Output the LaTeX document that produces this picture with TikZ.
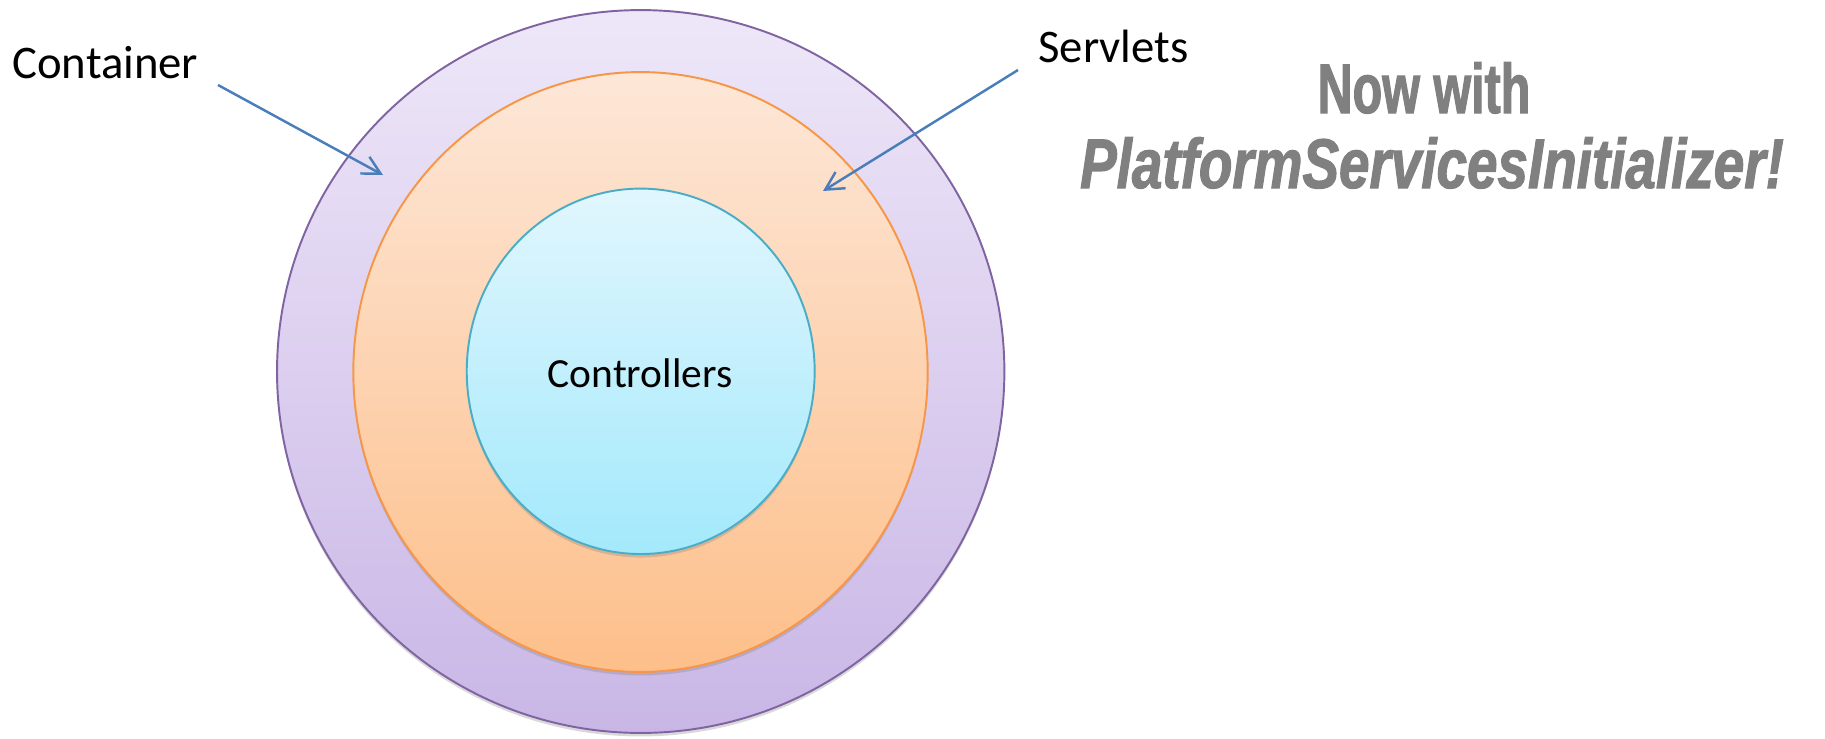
\documentclass[tikz,border=0pt]{standalone}
\usepackage{fontspec}
\setmainfont{Carlito}
\newfontfamily\bannerfont{Liberation Sans}[FakeStretch=0.69,FakeBold=1.5]
\newfontfamily\banneritfont{Liberation Sans}[FakeStretch=0.78,FakeBold=1.5]
\usetikzlibrary{shapes.geometric,arrows.meta,shadows}

\begin{document}
\begin{tikzpicture}[x=0.02cm,y=-0.02cm]
\definecolor{cv0}{rgb}{0.502,0.392,0.635}
\definecolor{ctv0}{rgb}{0.933,0.906,0.973}
\definecolor{cbv0}{rgb}{0.788,0.714,0.902}
\definecolor{cv1}{rgb}{0.969,0.588,0.275}
\definecolor{ctv1}{rgb}{0.992,0.906,0.847}
\definecolor{cbv1}{rgb}{0.992,0.749,0.541}
\definecolor{cv2}{rgb}{0.294,0.675,0.776}
\definecolor{ctv2}{rgb}{0.882,0.965,0.992}
\definecolor{cbv2}{rgb}{0.639,0.914,0.988}
\definecolor{ce}{rgb}{0.290,0.494,0.733}
\definecolor{cbanner}{rgb}{0.502,0.502,0.502}
%
\useasboundingbox (0,0) rectangle (1825,738);
%
\node[shape=ellipse,inner sep=0pt,line width=1.1pt,draw=cv0,top color=ctv0,bottom color=cbv0,drop shadow={shadow xshift=0pt,shadow yshift=-2pt,opacity=0.3},minimum width=14.55cm,minimum height=14.46cm] (v0) at (640.7,371.5) {};
\node[shape=ellipse,inner sep=0pt,line width=1.1pt,draw=cv1,top color=ctv1,bottom color=cbv1,drop shadow={shadow xshift=0pt,shadow yshift=-2pt,opacity=0.3},minimum width=11.49cm,minimum height=12.0cm] (v1) at (640.5,372) {};
\node[shape=ellipse,inner sep=0pt,line width=1.1pt,draw=cv2,top color=ctv2,bottom color=cbv2,drop shadow={shadow xshift=0pt,shadow yshift=-2pt,opacity=0.3},minimum width=6.96cm,minimum height=7.31cm] (v2) at (640.7,371.3) {};
%
\node[anchor=base,inner sep=0pt,font=\fontsize{23.6}{28}\selectfont] (l2) at (640,387) {Controllers};
\node[anchor=base west,inner sep=0pt,font=\fontsize{26.6}{32}\selectfont] (l0) at (12,78) {Container};
\node[anchor=base west,inner sep=0pt,font=\fontsize{26.6}{32}\selectfont] (l1) at (1038,62) {Servlets};
\node[anchor=base,inner sep=0pt,text=cbanner,font=\bannerfont\bfseries\fontsize{40}{48}\selectfont] (b0) at (1424,113) {Now with};
\node[anchor=base,inner sep=0pt,text=cbanner,font=\banneritfont\bfseries\itshape\fontsize{40}{48}\selectfont] (b1) at (1432,188) {PlatformServicesInitializer!};
%
\coordinate (e0) at (218,85);
\coordinate (t0) at (383,175);
\coordinate (e1) at (1018,70);
\coordinate (t1) at (823,191);
\draw[line width=1.4pt,color=ce,-{Straight Barb[length=3.6mm,width=3.8mm]}] (e0) -- (t0);
\draw[line width=1.4pt,color=ce,-{Straight Barb[length=3.6mm,width=3.8mm]}] (e1) -- (t1);
%
\end{tikzpicture}
\end{document}
